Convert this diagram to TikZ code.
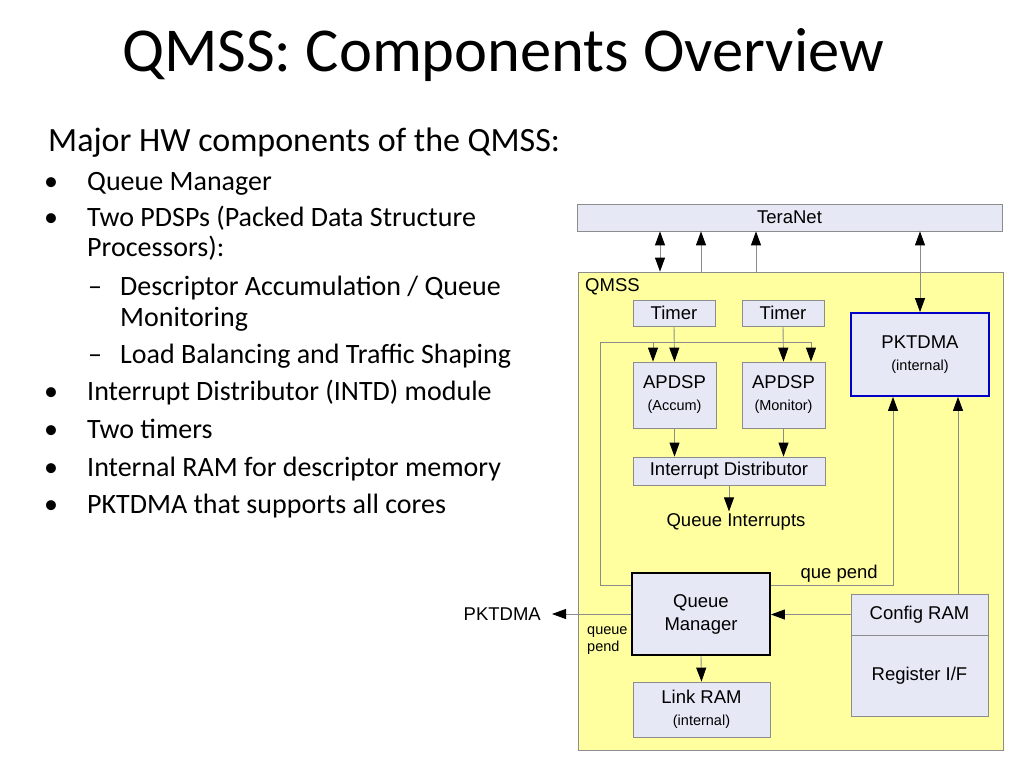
\documentclass[tikz,border=0pt]{standalone}
\usepackage{fontspec}
\setmainfont{Carlito}
\newfontfamily\diafont{Liberation Sans}
\newcommand\smallfnt{\diafont\fontsize{14.5}{17}\selectfont}
\usetikzlibrary{arrows.meta}
\definecolor{boxfill}{RGB}{230,232,245}
\definecolor{boxline}{RGB}{140,140,140}
\definecolor{qyellow}{RGB}{255,255,160}
\definecolor{conline}{RGB}{140,140,140}
\definecolor{pkblue}{RGB}{0,0,200}
\begin{document}
\begin{tikzpicture}[x=1pt,y=-1pt,
  dfont/.style={font=\diafont\fontsize{18.5}{21}\selectfont},
  sfont/.style={font=\smallfnt},
  blk/.style={draw=boxline, fill=boxfill, line width=0.8pt, inner sep=0pt, align=center, dfont},
  con/.style={draw=conline, line width=0.9pt},
  tip/.style={-{Triangle[length=14pt,width=10pt,color=black]}},
  dtip/.style={{Triangle[length=14pt,width=10pt,color=black]}-{Triangle[length=14pt,width=10pt,color=black]}},
  btxt/.style={anchor=base west, inner sep=0pt, font=\fontsize{28}{32}\selectfont}
]
\useasboundingbox (0,0) rectangle (1024,768);
\fill[white] (0,0) rectangle (1024,768);

% title and text
\node[inner sep=0pt, font=\fontsize{62.5}{70}\selectfont] (title) at (503,55) {QMSS: Components Overview};
\node[btxt, font=\fontsize{34}{38}\selectfont] (major) at (48,151) {Major HW components of the QMSS:};
\foreach \y/\t [count=\i] in {190/Queue Manager, 226/Two PDSPs (Packed Data Structure, 400/Interrupt Distributor (INTD) module, 438/Two timers, 476/Internal RAM for descriptor memory, 513/PKTDMA that supports all cores}{
  \node[btxt] (b\i) at (44,\y) {•};
  \node[btxt] (t\i) at (87,\y) {\t};
}
\node[btxt] (t2b) at (87,256) {Processors):};
\node[btxt] (d1) at (88,295) {–};
\node[btxt] (s1) at (120,295) {Descriptor Accumulation / Queue};
\node[btxt] (s1b) at (120,326) {Monitoring};
\node[btxt] (d2) at (88,363) {–};
\node[btxt] (s2) at (120,363) {Load Balancing and Traffic Shaping};

% diagram
\node[blk, minimum width=425pt, minimum height=27pt] (tera) at (789.5,217.5) {TeraNet};
\node[draw=boxline, fill=qyellow, line width=0.8pt, minimum width=425pt, minimum height=478pt, inner sep=0pt] (qmss) at (790.5,511) {};
\node[dfont, anchor=north west, inner sep=0pt] (qlabel) at (585,278) {QMSS};

\node[blk, minimum width=82pt, minimum height=26pt] (tm1) at (674,313) {Timer};
\node[blk, minimum width=82pt, minimum height=26pt] (tm2) at (783,313) {Timer};
\node[blk, draw=pkblue, line width=1.8pt, minimum width=138pt, minimum height=83pt] (pkt) at (920,354.5) {PKTDMA\\[1pt]{\smallfnt (internal)}};
\node[blk, minimum width=83pt, minimum height=66pt] (ap1) at (674.5,395) {APDSP\\[1pt]{\smallfnt (Accum)}};
\node[blk, minimum width=83pt, minimum height=66pt] (ap2) at (783.5,395) {APDSP\\[1pt]{\smallfnt (Monitor)}};
\node[blk, minimum width=192pt, minimum height=28pt] (intd) at (729,471) {Interrupt Distributor};
\node[dfont, inner sep=2pt] (qint) at (736,522) {Queue Interrupts};
\node[dfont, inner sep=0pt, anchor=base east] (qpend) at (878,578) {que pend};

\node[blk, draw=black, line width=1.8pt, minimum width=138pt, minimum height=82pt] (qm) at (701,614) {Queue\\[2pt]Manager};
\node[blk, minimum width=137pt, minimum height=41pt] (cfg) at (919.5,614.5) {Config RAM};
\node[blk, minimum width=137pt, minimum height=81pt] (reg) at (919.5,675.5) {Register I/F};
\node[blk, minimum width=137pt, minimum height=55pt] (link) at (701.5,709.5) {Link RAM\\[1pt]{\smallfnt (internal)}};
\node[sfont, inner sep=0pt, align=left, anchor=north west] (qpl) at (587,626) {queue\\pend};
\node[dfont, inner sep=0pt, anchor=east] (pkl) at (541,614) {PKTDMA};

% TeraNet connections
\draw[con, dtip] (tera.south -| 660,0) -- (qmss.north -| 660,0);
\draw[con, tip] (qmss.north -| 701,0) -- (tera.south -| 701,0);
\draw[con, tip] (qmss.north -| 756,0) -- (tera.south -| 756,0);
\draw[con, dtip] (tera.south -| pkt.north) -- (pkt.north);

% timers and APDSPs
\draw[con, tip] (tm1.south) -- (ap1.north);
\draw[con, tip] (tm2.south) -- (ap2.north);
\coordinate (hl) at (600,342);
\coordinate (hr) at (811,342);
\draw[con] (qm.west |- 0,585) -- (600,585) -- (hl) -- (hr);
\draw[con, tip] (hr) -- (ap2.north -| hr);
\draw[con, tip] (653,342) -- (ap1.north -| 653,0);
\draw[con, tip] (ap1.south) -- (intd.north -| ap1.south);
\draw[con, tip] (ap2.south) -- (intd.north -| ap2.south);
\draw[con, tip] (intd.south) -- (intd.south |- qint.north);

% que pend to PKTDMA
\draw[con, tip] (qm.east |- 0,585) -- (893,585) -- (pkt.south -| 893,0);
\draw[con, tip] (cfg.north -| 958,0) -- (pkt.south -| 958,0);

% Queue manager connections
\draw[con, tip] (cfg.west) -- (qm.east |- cfg.west);
\draw[con, tip] (qm.west |- 0,614) -- ([xshift=11pt]pkl.east);
\draw[con, tip] (qm.south) -- (link.north);
\end{tikzpicture}
\end{document}
